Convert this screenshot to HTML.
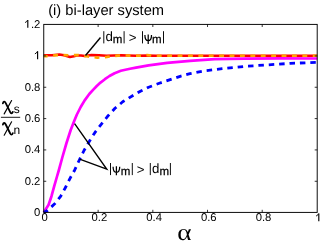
<!DOCTYPE html>
<html><head><meta charset="utf-8">
<style>
html,body{margin:0;padding:0;background:#fff;}
svg{display:block;will-change:transform;}
text{font-family:"Liberation Sans",sans-serif;fill:#000;text-rendering:geometricPrecision;}
.tk{font-size:11.3px;}
.an{font-size:13.3px;}
.sb{font-size:11.5px;stroke:#000;stroke-width:0.25px;}
.sym{font-family:"Liberation Serif",serif;}
</style></head>
<body>
<svg width="322" height="246" viewBox="0 0 322 246">
<rect width="322" height="246" fill="#fff"/>
<!-- curves -->
<g fill="none" stroke-linejoin="round">
<path d="M43.75,55.3 L52,55.3 L59.4,54.5 L64,55.3 L69.9,57 L74,56.3 L77.3,55.4 L81,55.6 L84.8,56 L91.5,55 L99,55.3 L106.4,55.7 L114,55.5 L121.3,55.3 L128,55.5 L136,55.8 L147,55.4 L156,55.8 L317.2,55.85" stroke="#ff0000" stroke-width="2.5"/>
<path d="M43.75,56.1 L48,56.2 L53,55.5 L59,55.1 L70,55.2 L78,55 L84,55.9 L88,56.5 L92,57 L97.4,57.6 L102,57.4 L107,56.9 L112,56.2 L118,55.6 L124,55.5 L130,55.6 L140,55.7 L147,55.1 L154,55.7 L317.2,55.8" stroke="#ffa500" stroke-width="2.6" stroke-dasharray="4.9 5.5" stroke-dashoffset="1"/>
<path id="mag" d="M43.75,212.4 L48.6,204.8 L51.5,196.2 L54.3,185.9 L57,176.5 L58.9,170 L62.3,157.5 L66.5,143 L70.7,130 L74.4,120.5 L76.9,114.5 L80.7,107 L84.5,100.6 L89.3,94 L93.3,89.6 L96.8,86 L100.5,82.6 L104.9,79.2 L109.5,76 L114.6,73.2 L120.8,70.8 L130,68.8 L136,67.6 L148.6,65.3 L167.2,62.8 L190,60.8 L214.8,59.2 L245,58.6 L280,58.4 L317.2,58.5" stroke="#ff00ff" stroke-width="2.7"/>
<path id="blu" d="M43.75,212.4 L47.5,210.4 L55,203.5 L60.6,196.4 L65.2,188 L69.9,178.6 L74.6,170.2 L79.1,160.5 L84,150.5 L89.1,141.7 L95,132.4 L100.8,124.8 L107.6,116.3 L115,108.3 L122.7,101.8 L133.7,95 L140.4,91.2 L148.6,87.2 L160.6,82.8 L167.2,80.6 L180.2,76.3 L190,73.7 L203.6,71 L222.2,68.7 L245,66.4 L265.2,65 L290.5,63.4 L317.2,62.3" stroke="#0000ff" stroke-width="2.8" stroke-dasharray="5.5 4.9" stroke-dashoffset="0.9"/>
</g>
<!-- axes -->
<g stroke="#000" stroke-width="0.95" fill="none">
<rect x="43.75" y="24.4" width="273.45" height="188"/>
</g>
<g stroke="#000" stroke-width="0.8" fill="none">
<path d="M98.14,212.4 v-2.6 M98.14,24.4 v2.6 M152.83,212.4 v-2.6 M152.83,24.4 v2.6 M207.52,212.4 v-2.6 M207.52,24.4 v2.6 M262.21,212.4 v-2.6 M262.21,24.4 v2.6 M43.75,181.27 h2.5 M317.2,181.27 h-2.5 M43.75,149.93 h2.5 M317.2,149.93 h-2.5 M43.75,118.60 h2.5 M317.2,118.60 h-2.5 M43.75,87.26 h2.5 M317.2,87.26 h-2.5 M43.75,55.93 h2.5 M317.2,55.93 h-2.5"/>
</g>
<!-- annotation lines -->
<g stroke="#000" stroke-width="1.4" fill="none" stroke-linejoin="miter">
<path d="M100.5,37.5 L85.5,55.5"/>
<path d="M74.6,123.7 L106.7,169.1 L79.6,159.1"/>
</g>
<!-- tick labels -->
<g class="tk" text-anchor="end">
<text x="40.4" y="27.85">.2</text>
<text x="40.4" y="90.51">0.8</text>
<text x="40.4" y="121.85">0.6</text>
<text x="40.4" y="153.18">0.4</text>
<text x="40.4" y="184.52">0.2</text>
<text x="40.4" y="215.85">0</text>
</g>
<g class="tk" text-anchor="middle">
<text x="44.75" y="221.4">0</text>
<text x="99.44" y="221.4">0.2</text>
<text x="154.13" y="221.4">0.4</text>
<text x="208.82" y="221.4">0.6</text>
<text x="263.51" y="221.4">0.8</text>
</g>
<g stroke="#000" fill="none">
<path d="M27.80,19.95 V27.85" stroke-width="1.15"/><path d="M27.55,20.15 C27.20,21.25 26.30,22.15 25.10,22.55" stroke-width="0.95"/>
<path d="M37.60,51.25 V59.15" stroke-width="1.15"/><path d="M37.35,51.45 C37.00,52.55 36.10,53.45 34.90,53.85" stroke-width="0.95"/>
<path d="M318.80,213.45 V221.35" stroke-width="1.15"/><path d="M318.55,213.65 C318.20,214.75 317.30,215.65 316.10,216.05" stroke-width="0.95"/>
</g>
<!-- title -->
<text x="48.2" y="14.5" font-size="14.7">(i) bi-layer system</text>
<!-- annotation text 1 -->
<g class="an">
<text x="105.4" y="41">d</text>
<text class="sb" x="112.76" y="42.9">m</text>
<text x="128.8" y="42.2">&gt;</text>
<text class="sb" x="152.1" y="42.8">m</text>
</g>
<g stroke="#000" stroke-width="0.95" fill="none">
<path d="M103.8,31.2 V43.4 M124.1,31.2 V43.4 M142.5,31.2 V43.4 M163.5,31.2 V43.4"/>
<path d="M144.90,35.00 C144.90,38.60 145.90,40.70 148.20,40.70 C150.50,40.70 151.50,38.60 151.50,35.00 M148.20,34.60 V44.00" stroke-width="1.25"/>
</g>
<!-- annotation text 2 -->
<g class="an">
<text class="sb" x="120.7" y="174.8">m</text>
<text x="136.7" y="173.7">&gt;</text>
<text x="151.9" y="172.9">d</text>
<text class="sb" x="159.56" y="174.8">m</text>
</g>
<g stroke="#000" stroke-width="0.95" fill="none">
<path d="M110.5,163 V175.1 M132.3,163 V175.1 M150.3,163 V175.1 M170.4,163 V175.1"/>
<path d="M113.10,166.80 C113.10,170.40 114.10,172.40 116.40,172.40 C118.70,172.40 119.70,170.40 119.70,166.80 M116.40,166.30 V175.30" stroke-width="1.25"/>
</g>
<!-- ylabel -->
<g fill="none" stroke="#000" stroke-linecap="round">
<path d="M2.9,103.4 C3.3,101.3 4.8,101.2 5.5,102.7 L10.2,112.2 C10.8,113.6 12,114.0 12.8,111.9" stroke-width="1.8"/>
<path d="M11.6,100.5 L4.2,113.9" stroke-width="1.15"/>
<path d="M2.9,124.7 C3.3,122.6 4.8,122.5 5.5,124.0 L10.2,133.5 C10.8,134.9 12,135.3 12.8,133.2" stroke-width="1.8"/>
<path d="M11.6,121.8 L4.2,135.2" stroke-width="1.15"/>
</g>
<text x="13.7" y="112.5" font-size="12">s</text>
<path d="M0.9,117.3 H20.2" stroke="#000" stroke-width="0.9"/>
<text x="13.5" y="133.7" font-size="12">n</text>
<!-- xlabel -->
<text class="sym" transform="translate(177.2,240.2) scale(1.16,1)" x="0" y="0" font-size="23.5">α</text>
</svg>
</body></html>
